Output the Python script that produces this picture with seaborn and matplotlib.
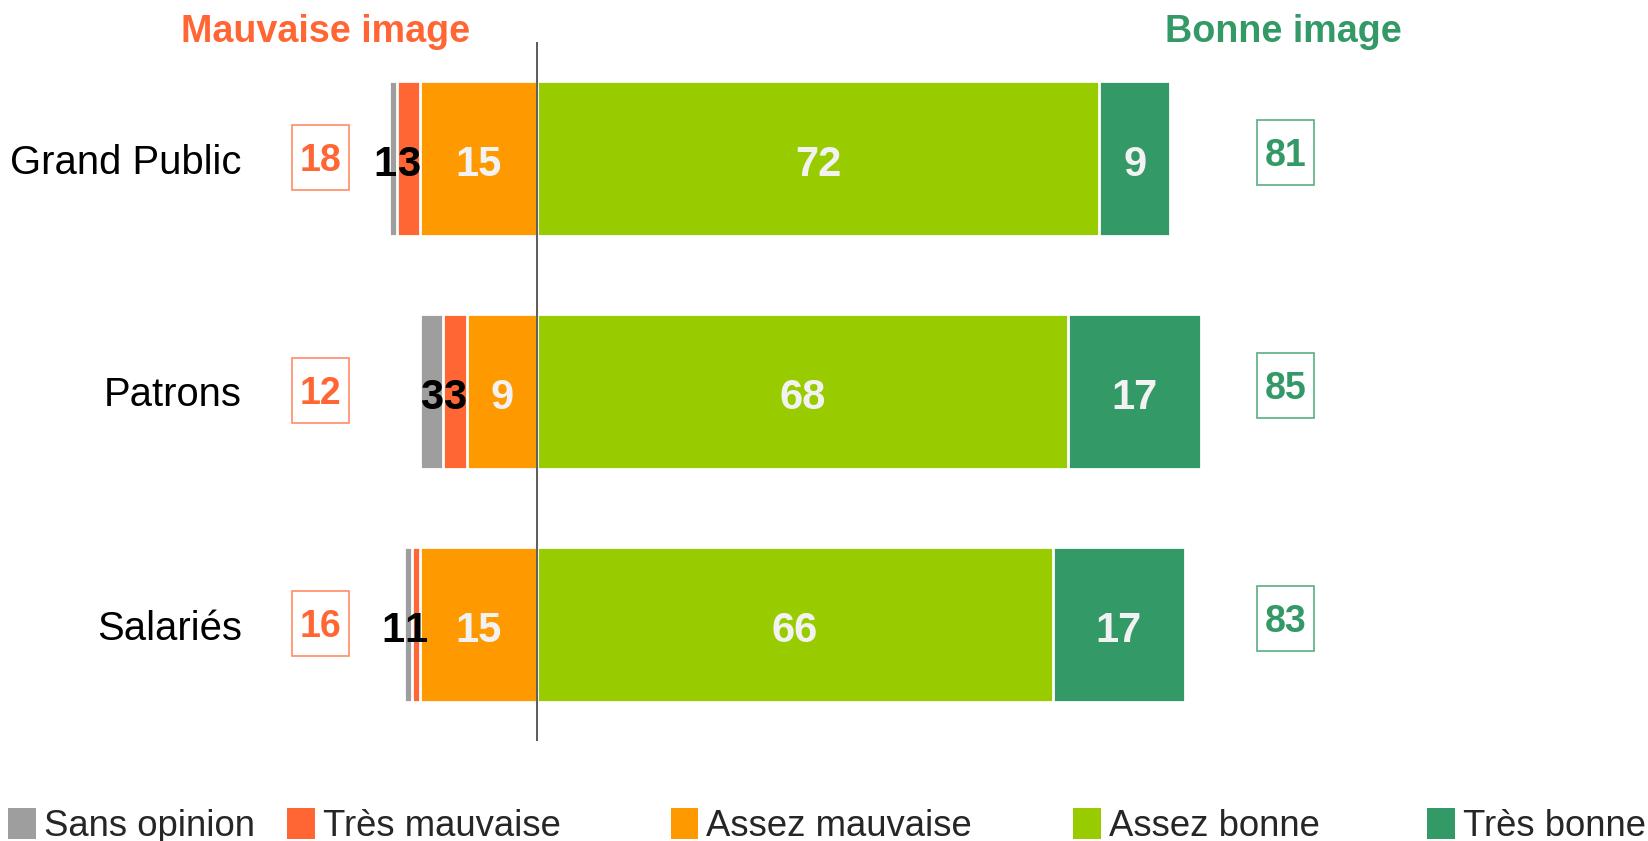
import numpy as np
import pandas as pd
import matplotlib
matplotlib.use("Agg")
import matplotlib.pyplot as plt
import seaborn as sns
from matplotlib.patches import Patch, Rectangle

# ---- data ----
categories = ["Grand Public", "Patrons", "Salariés"]
sans_opinion = [1, 3, 1]
tres_mauvaise = [3, 3, 1]
assez_mauvaise = [15, 9, 15]
assez_bonne = [72, 68, 66]
tres_bonne = [9, 17, 17]
total_mauvaise = [18, 12, 16]
total_bonne = [81, 85, 83]
series_names = ["Sans opinion", "Très mauvaise", "Assez mauvaise", "Assez bonne", "Très bonne"]
colors = ["#9E9E9E", "#FF6633", "#FF9900", "#99CC00", "#339966"]

sns.set_theme(style="white")
plt.rcParams["font.family"] = ["Liberation Sans", "DejaVu Sans"]

W, H = 1648, 841
fig = plt.figure(figsize=(W / 100, H / 100), dpi=100)
ax_left_px = 255
ax_h_px = 699
ax = fig.add_axes([ax_left_px / W, 100 / H, (W - ax_left_px) / W, ax_h_px / H])

so = np.array(sans_opinion)
tm = np.array(tres_mauvaise)
am = np.array(assez_mauvaise)
ab = np.array(assez_bonne)
tb = np.array(tres_bonne)

df = pd.DataFrame({
    "cat": categories,
    "l_so": -(am + tm + so),
    "l_tm": -(am + tm),
    "l_am": -am,
    "r_tb": ab + tb,
    "r_ab": ab,
})

bar_kw = dict(orient="h", width=0.665, edgecolor="white", linewidth=2.0,
              saturation=1, ax=ax, errorbar=None)
# stacked by overlaying cumulative bars (largest first)
for col, c in [("l_so", colors[0]), ("l_tm", colors[1]), ("l_am", colors[2]),
               ("r_tb", colors[4]), ("r_ab", colors[3])]:
    sns.barplot(data=df, x=col, y="cat", color=c, **bar_kw)

center = 537.1
ppu = 7.81
ax.set_xlim(-(center - ax_left_px) / ppu, (W - center) / ppu)
ax.set_ylim(2.5, -0.5)
ax.axvline(0, color="#404040", lw=1.2, zorder=5)

py_per_unit = ax_h_px / 3.0


def digits(x, y, s, fs, color, extra=0.0):
    # vertically centre the digits (cap height ~0.716 em) on y
    ax.annotate(s, (x, y), xytext=(0, -0.358 * fs - extra), textcoords="offset points",
                ha="center", va="baseline", fontsize=fs, fontweight="bold",
                color=color, zorder=6)


light = "#F2F2F2"
fs_bar = 30
for i in range(len(categories)):
    c_am = -am[i] / 2
    c_tm = -(am[i] + tm[i] / 2)
    c_so = -(am[i] + tm[i] + so[i] / 2)
    c_so = min(c_so, c_tm - 3.0)
    c_ab = ab[i] / 2
    c_tb = ab[i] + tb[i] / 2
    digits(c_so, i, str(so[i]), fs_bar, "black", 1.8)
    digits(c_tm, i, str(tm[i]), fs_bar, "black", 1.8)
    digits(c_am, i, str(am[i]), fs_bar, light, 1.8)
    digits(c_ab, i, str(ab[i]), fs_bar, light, 1.8)
    digits(c_tb, i, str(tb[i]), fs_bar, light, 1.8)

    # totals in boxes
    bw = 57 / ppu
    bh = 65 / py_per_unit
    for xc, yc, val, col, ec in [(-27.7, i - 0.005, total_mauvaise[i], "#FF6633", "#FF8C66"),
                                 (95.8, i - 0.025, total_bonne[i], "#339966", "#5AAE80")]:
        ax.add_patch(Rectangle((xc - bw / 2, yc - bh / 2), bw, bh, fc="white",
                               ec=ec, lw=1.2, zorder=4))
        digits(xc, yc, str(val), 27, col)

ax.set_xlabel("")
ax.set_ylabel("")
ax.set_xticks([])
ax.tick_params(axis="y", length=0, pad=9.4, labelsize=28.8, labelcolor="black")
for s in ax.spines.values():
    s.set_visible(False)

fig.text(326 / W, 1 - 31.5 / H, "Mauvaise image", ha="center", va="center",
         fontsize=27.2, fontweight="bold", color="#FF6633")
fig.text(1283 / W, 1 - 31.5 / H, "Bonne image", ha="center", va="center",
         fontsize=27.2, fontweight="bold", color="#339966")

leg_x = [8.4, 287, 670.5, 1073, 1427]
for name, c, x in zip(series_names, colors, leg_x):
    fig.legend(handles=[Patch(facecolor=c, edgecolor="none", label=name)],
               loc="center left", bbox_to_anchor=(x / W, 1 - 826 / H),
               frameon=False, fontsize=26.3, borderpad=0, borderaxespad=0,
               handlelength=0.76, handleheight=0.95, handletextpad=0.22)

fig.savefig("out.png", dpi=100)
